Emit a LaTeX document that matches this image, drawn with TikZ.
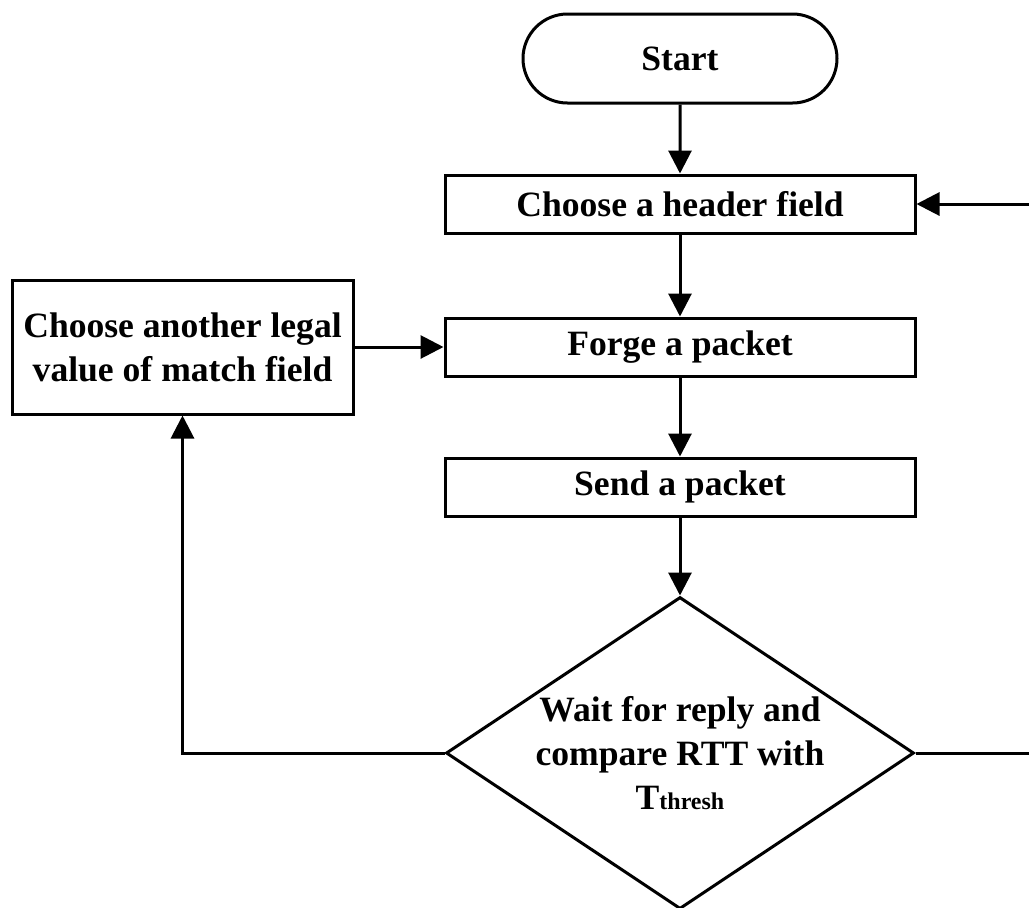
\documentclass[tikz,border=0pt]{standalone}
\usepackage{fontspec}
\setmainfont{Liberation Serif}
\usetikzlibrary{shapes.misc,shapes.geometric,arrows.meta}
\begin{document}
\begin{tikzpicture}[x=0.5pt,y=-0.5pt,
  every node/.style={font=\bfseries\fontsize{17.8}{22}\selectfont, align=center},
  line/.style={line width=1.5pt, line join=miter},
  arr/.style={line, -{Triangle[length=11.5pt,width=11.5pt]}},
  stepbox/.style={draw, line width=1.5pt, rectangle, minimum width=235pt, minimum height=29pt, inner sep=0pt},
  termbox/.style={draw, line width=1.5pt, rounded rectangle, minimum width=157pt, minimum height=44.5pt, inner sep=0pt},
  decbox/.style={draw, line width=1.5pt, diamond, aspect=1.5, minimum width=234pt, minimum height=156pt, inner sep=0pt},
  sidebox/.style={draw, line width=1.5pt, rectangle, minimum width=170.5pt, minimum height=67pt, inner sep=0pt}]
  \useasboundingbox (0,0) rectangle (1029,907);

  % main column
  \node[termbox] (start) at (680,58.5) {Start};
  \node[stepbox] (hdr)   at (680,204)  {Choose a header field};
  \node[stepbox] (forge) at (680,347)  {Forge a packet};
  \node[stepbox] (send)  at (680,487)  {Send a packet};
  \node[decbox]  (wait)  at (680,753)  {Wait for reply and\\compare RTT with\\T{\fontsize{12}{14}\selectfont thresh}};

  % side box for the retry branch
  \node[sidebox] (alt) at (182.5,347) {Choose another legal\\value of match field};

  % the return path runs just past the right edge
  \coordinate (rx) at (1045,0);

  \draw[arr] (start) -- (hdr);
  \draw[arr] (hdr) -- (forge);
  \draw[arr] (forge) -- (send);
  \draw[arr] (send) -- (wait);
  \draw[arr] (alt) -- (forge);
  \draw[arr] (wait.west) -| (alt.south);
  \draw[arr] (wait.east) -- (wait.east -| rx) |- (hdr.east);
\end{tikzpicture}
\end{document}
